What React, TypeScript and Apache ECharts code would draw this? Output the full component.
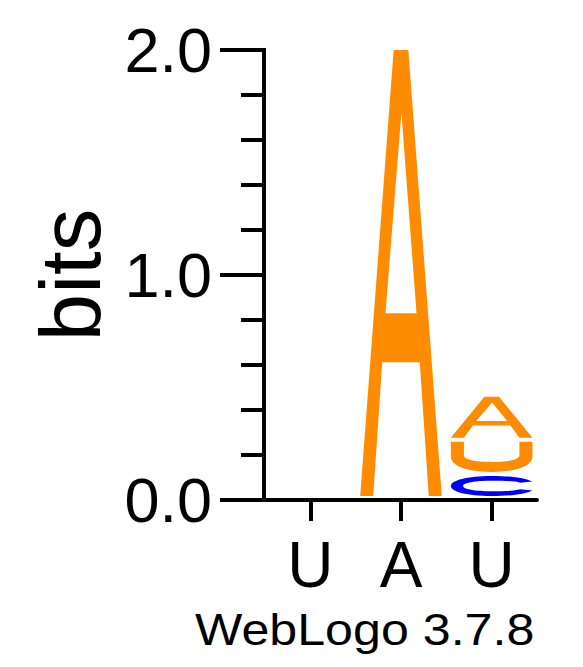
import React, { useEffect, useRef } from 'react';
import * as echarts from 'echarts';

// ---- data ----
const positionKeys = ['1', '2', '3'];
const positionLabels = ['U', 'A', 'U'];
const glyphOrder = ['A', 'C', 'U'];
const bitsA = [0, 2.0, 0.2];
const bitsC = [0, 0, 0.107];
const bitsU = [0, 0, 0.152];
const yMax = 2.0;
const yMinorStep = 0.2;
const yMajorStep = 1.0;
const yAxisName = 'bits';
const versionText = 'WebLogo 3.7.8';

const glyphColors: Record<string, string> = { A: '#FF8C00', U: '#FF8C00', C: '#0000FF' };
const glyphPaths: Record<string, string> = {
  A: 'M0,100 L41,0 L59,0 L100,100 L84,100 L73,70 L27,70 L16,100 Z M31,59 L69,59 L50.5,14 Z',
  U: 'M0,0 L16,0 L16,45 C16,60 30,67 50,67 C70,67 84,60 84,45 L84,0 L100,0 L100,50 C100,80 80,100 50,100 C20,100 0,80 0,50 Z',
  C: 'M100,28 C90,8 72,0 50,0 C20,0 0,22 0,50 C0,78 20,100 50,100 C72,100 90,92 100,72 L85,66 C78,74 66,76 50,76 C30,76 15,66 15,50 C15,34 30,24 50,24 C66,24 78,26 85,34 Z',
};

const FONT = '"Liberation Sans", Arial, Helvetica, sans-serif';

export default function App() {
  const ref = useRef<HTMLDivElement>(null);
  useEffect(() => {
    if (!ref.current) return;
    const chart = echarts.init(ref.current, null, { renderer: 'svg' });
    const heights: Record<string, number[]> = { A: bitsA, C: bitsC, U: bitsU };
    const data: number[][] = [];
    positionKeys.forEach((_, i) => {
      const stack = glyphOrder
        .map((g, gi) => ({ gi, h: heights[g][i] }))
        .filter((d) => d.h > 0)
        .sort((a, b) => a.h - b.h);
      let base = 0;
      stack.forEach((d) => {
        data.push([i, base, base + d.h, d.gi]);
        base += d.h;
      });
    });

    chart.setOption({
      animation: false,
      backgroundColor: '#ffffff',
      grid: { left: 265, right: 46, top: 50, bottom: 167, containLabel: false },
      xAxis: {
        type: 'category',
        data: positionKeys,
        boundaryGap: true,
        axisLine: { show: true, lineStyle: { color: '#000', width: 4 } },
        axisTick: { show: true, alignWithLabel: true, length: 21, lineStyle: { color: '#000', width: 4 } },
        axisLabel: {
          margin: 33,
          fontSize: 64,
          lineHeight: 64,
          fontFamily: FONT,
          color: '#000',
          formatter: (_v: string, idx: number) => positionLabels[idx],
        },
        splitLine: { show: false },
      },
      yAxis: [
        {
          type: 'value',
          min: 0,
          max: yMax,
          interval: yMinorStep,
          position: 'left',
          offset: 1,
          axisLine: { show: true, lineStyle: { color: '#000', width: 4, cap: 'square' } },
          axisTick: { show: true, length: 23, lineStyle: { color: '#000', width: 4 } },
          axisLabel: { show: false },
          splitLine: { show: false },
        },
        {
          type: 'value',
          min: 0,
          max: yMax,
          interval: yMajorStep,
          position: 'left',
          offset: 1,
          axisLine: { show: false },
          axisTick: { show: true, length: 44, lineStyle: { color: '#000', width: 4 } },
          axisLabel: {
            show: true,
            margin: 52,
            fontSize: 63,
            fontFamily: FONT,
            color: '#000',
            formatter: (v: number) => v.toFixed(1),
          },
          splitLine: { show: false },
        },
      ],
      graphic: [
        {
          type: 'text',
          x: 70,
          y: 275,
          rotation: Math.PI / 2,
          style: {
            text: yAxisName,
            x: 0,
            y: 0,
            font: `85px ${FONT}`,
            fill: '#000',
            align: 'center',
            verticalAlign: 'middle',
            textAlign: 'center',
            textVerticalAlign: 'middle',
          },
        },
        {
          type: 'text',
          x: 195,
          y: 629,
          scaleX: 1.115,
          style: {
            text: versionText,
            x: 0,
            y: 0,
            font: `45px ${FONT}`,
            fill: '#000',
            align: 'left',
            verticalAlign: 'middle',
            textAlign: 'left',
            textVerticalAlign: 'middle',
          },
        },
      ],
      series: [
        {
          type: 'custom',
          coordinateSystem: 'cartesian2d',
          xAxisIndex: 0,
          yAxisIndex: 0,
          clip: false,
          encode: { x: 0, y: [1, 2] },
          data,
          z: 1,
          renderItem: (_params: any, api: any) => {
            const i = api.value(0);
            const y0 = api.value(1);
            const y1 = api.value(2);
            const g = glyphOrder[api.value(3)];
            const bw = api.size([1, 0])[0];
            const pb = api.coord([i, y0]);
            const pt = api.coord([i, y1]);
            const w = bw * 0.9;
            const h = pb[1] - pt[1] - 4;
            return {
              type: 'path',
              x: pb[0] - w / 2,
              y: pt[1],
              scaleX: w / 100,
              scaleY: h / 100,
              shape: { pathData: glyphPaths[g] },
              style: { fill: glyphColors[g], stroke: null },
            };
          },
        },
      ],
    });
    return () => chart.dispose();
  }, []);

  return (
    <div
      ref={ref}
      style={{ position: 'absolute', left: 0, top: 0, width: 583, height: 667, background: '#fff' }}
    />
  );
}
